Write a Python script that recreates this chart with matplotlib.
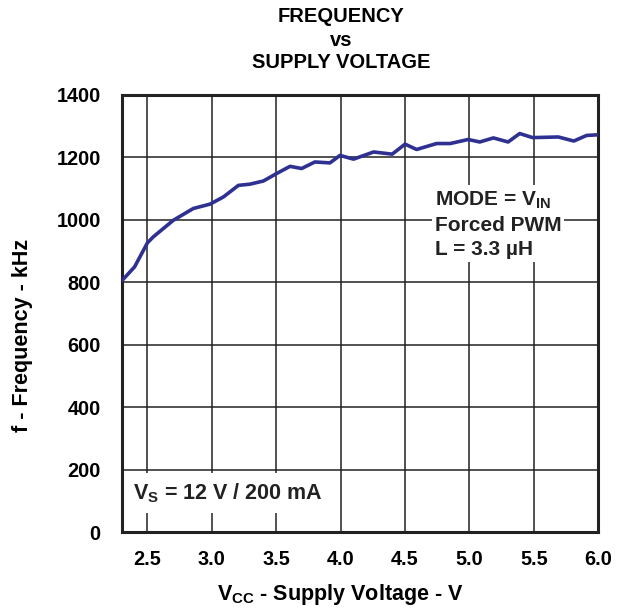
import matplotlib
matplotlib.use("Agg")
import matplotlib.pyplot as plt

plt.rcParams['font.family'] = ['Liberation Sans', 'DejaVu Sans']
plt.rcParams['font.weight'] = 'bold'

vcc = [2.30, 2.40, 2.50, 2.545, 2.70, 2.856, 2.986, 3.09, 3.206, 3.297, 3.40, 3.503,
       3.607, 3.697, 3.80, 3.917, 3.995, 4.10, 4.256, 4.40, 4.50, 4.59, 4.745, 4.85,
       4.99, 5.08, 5.186, 5.30, 5.39, 5.49, 5.69, 5.81, 5.91, 6.00]
freq = [804, 849, 926, 945, 998, 1036, 1050, 1073, 1110, 1114, 1124, 1148,
        1171, 1164, 1185, 1182, 1206, 1194, 1217, 1210, 1242, 1225, 1244, 1244,
        1257, 1249, 1262, 1249, 1276, 1263, 1265, 1252, 1270, 1272]

xticks = [2.5, 3.0, 3.5, 4.0, 4.5, 5.0, 5.5, 6.0]
xticklabels = ['2.5', '3.0', '3.5', '4.0', '4.5', '5.0', '5.5', '6.0']
yticks = [0, 200, 400, 600, 800, 1000, 1200, 1400]

fig = plt.figure(figsize=(6.23, 6.09), dpi=100)
ax = fig.add_axes([0.1953, 0.1264, 0.7650, 0.7179])

ax.plot(vcc, freq, color='#2E3192', lw=2.6, zorder=4, solid_capstyle='round',
        solid_joinstyle='round')

ax.set_xlim(2.3, 6.0)
ax.set_ylim(0, 1400)
ax.set_xticks(xticks)
ax.set_xticklabels(xticklabels)
ax.set_yticks(yticks)
ax.set_axisbelow(True)
ax.grid(True, color='#222222', lw=1.1)
ax.tick_params(axis='x', length=0, labelsize=14.3, pad=13)
ax.tick_params(axis='y', length=0, labelsize=14.3, pad=15)
for lab in ax.get_xticklabels() + ax.get_yticklabels():
    lab.set_fontweight('bold')
for s in ax.spines.values():
    s.set_linewidth(2.2)
    s.set_color('#222222')

ax.set_xlabel('V$_\\mathregular{CC}$ - Supply Voltage - V', fontsize=15.5,
              fontweight='bold')
ax.xaxis.set_label_coords(0.458, -0.115)
ax.set_ylabel('f - Frequency - kHz', fontsize=15.5, fontweight='bold')
ax.yaxis.set_label_coords(-0.186, 0.45)

fig.text(341 / 623, 1 - 17 / 609, 'FREQUENCY', ha='center', va='center',
         fontsize=14.5, fontweight='bold')
fig.text(341 / 623, 1 - 40 / 609, 'vs', ha='center', va='center',
         fontsize=14.5, fontweight='bold')
fig.text(341 / 623, 1 - 62 / 609, 'SUPPLY VOLTAGE', ha='center', va='center',
         fontsize=14.5, fontweight='bold')

ax.text(4.73, 986, 'MODE = V$_\\mathregular{IN}$\nForced PWM\nL = 3.3 µH',
        ha='left', va='center', fontsize=15, fontweight='bold', linespacing=1.33,
        color='#222222',
        bbox=dict(facecolor='white', edgecolor='none', pad=2), zorder=3)

ax.text(2.39, 125, 'V$_\\mathregular{S}$ = 12 V / 200 mA', ha='left', va='center',
        fontsize=15.5, fontweight='bold', color='#222222',
        bbox=dict(facecolor='white', edgecolor='none', pad=6), zorder=3)

fig.savefig('out.png', dpi=100)
